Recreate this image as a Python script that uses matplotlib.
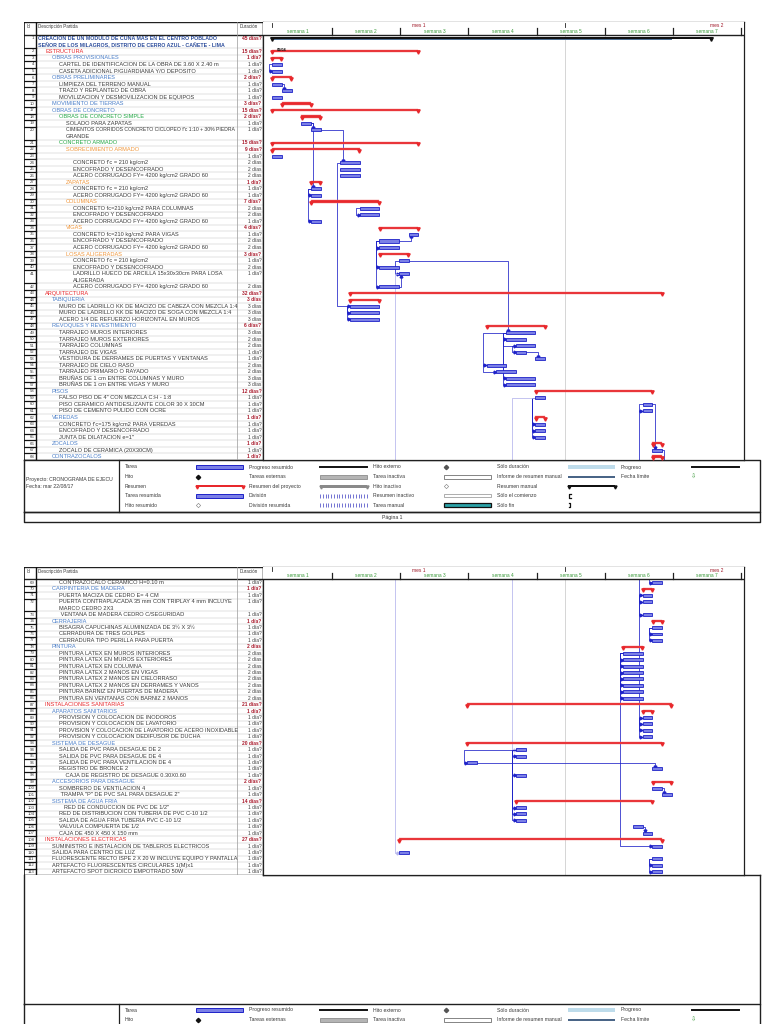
import matplotlib
matplotlib.use("Agg")
import numpy as np
import matplotlib.pyplot as plt
import matplotlib.font_manager as fm
from matplotlib.patches import Rectangle

available = {f.name for f in fm.fontManager.ttflist}
NARROW = 'Liberation Sans Narrow' in available
FONT = 'Liberation Sans Narrow' if NARROW else 'Liberation Sans'
plt.rcParams['font.family'] = [FONT, 'DejaVu Sans']
FS = 4.9 if NARROW else 4.1

# ---------------- data ----------------
task_ids = [1, 2, 3, 4, 5, 6, 7, 8, 9, 10, 17, 18, 19, 20, 21, 22, 23, 24, 25, 26,
            27, 28, 29, 30, 31, 32, 33, 34, 35, 36, 37, 38, 39, 40, 41, 42, 43, 44,
            45, 46, 47, 48, 49, 50, 51, 52, 53, 54, 55, 56, 57, 58, 59, 60, 61, 62,
            63, 64, 65, 66, 67, 68, 69, 70, 71, 72, 73, 74, 75, 76, 77, 78, 79, 80,
            81, 82, 83, 84, 85, 86, 87, 88, 89, 90, 91, 92, 93, 94, 95, 96, 97, 98,
            99, 100, 101, 102, 103, 104, 105, 106, 107, 108, 109, 110, 111, 112, 113]

task_names = [
    "CREACION DE UN MODULO DE CUNA MAS EN EL CENTRO POBLADO\nSEÑOR DE LOS MILAGROS, DISTRITO DE CERRO AZUL - CAÑETE - LIMA",
    "ESTRUCTURA", "OBRAS PROVISIONALES",
    "CARTEL DE IDENTIFICACION DE LA OBRA DE 3.60 X 2.40 m",
    "CASETA ADICIONAL P/GUARDIANIA Y/O DEPOSITO",
    "OBRAS PRELIMINARES", "LIMPIEZA DEL TERRENO MANUAL", "TRAZO Y REPLANTEO DE OBRA",
    "MOVILIZACION Y DESMOVILIZACION DE EQUIPOS", "MOVIMIENTO DE TIERRAS",
    "OBRAS DE CONCRETO", "OBRAS DE CONCRETO SIMPLE", "SOLADO PARA ZAPATAS",
    "CIMIENTOS CORRIDOS CONCRETO CICLOPEO f'c 1:10 + 30% PIEDRA\nGRANDE",
    "CONCRETO ARMADO", "SOBRECIMIENTO ARMADO", "",
    "CONCRETO f'c = 210 kg/cm2", "ENCOFRADO Y DESENCOFRADO",
    "ACERO CORRUGADO FY= 4200 kg/cm2 GRADO 60",
    "ZAPATAS", "CONCRETO f'c = 210 kg/cm2", "ACERO CORRUGADO FY= 4200 kg/cm2 GRADO 60",
    "COLUMNAS", "CONCRETO fc=210 kg/cm2 PARA COLUMNAS", "ENCOFRADO Y DESENCOFRADO",
    "ACERO CORRUGADO FY= 4200 kg/cm2 GRADO 60",
    "VIGAS", "CONCRETO fc=210 kg/cm2 PARA VIGAS", "ENCOFRADO Y DESENCOFRADO",
    "ACERO CORRUGADO FY= 4200 kg/cm2 GRADO 60",
    "LOSAS ALIGERADAS", "CONCRETO f'c = 210 kg/cm2", "ENCOFRADO Y DESENCOFRADO",
    "LADRILLO HUECO DE ARCILLA 15x30x30cm PARA LOSA\nALIGERADA",
    "ACERO CORRUGADO FY= 4200 kg/cm2 GRADO 60",
    "ARQUITECTURA", "TABIQUERIA",
    "MURO DE LADRILLO KK DE MACIZO DE CABEZA CON MEZCLA 1:4",
    "MURO DE LADRILLO KK DE MACIZO DE SOGA CON MEZCLA 1:4",
    "ACERO 1/4 DE REFUERZO HORIZONTAL EN MUROS",
    "REVOQUES Y REVESTIMIENTO", "TARRAJEO MUROS INTERIORES", "TARRAJEO MUROS EXTERIORES",
    "TARRAJEO COLUMNAS", "TARRAJEO DE VIGAS", "VESTIDURA DE DERRAMES DE PUERTAS Y VENTANAS",
    "TARRAJEO DE CIELO RASO", "TARRAJEO PRIMARIO O RAYADO",
    "BRUÑAS DE 1 cm ENTRE COLUMNAS Y MURO", "BRUÑAS DE 1 cm ENTRE VIGAS Y MURO",
    "PISOS", "FALSO PISO DE 4\" CON MEZCLA C:H - 1:8",
    "PISO CERAMICO ANTIDESLIZANTE COLOR 30 X 30CM", "PISO DE CEMENTO PULIDO CON OCRE",
    "VEREDAS", "CONCRETO f'c=175 kg/cm2 PARA VEREDAS", "ENCOFRADO Y DESENCOFRADO",
    "JUNTA DE DILATACION e=1\"",
    "ZOCALOS", "ZOCALO DE CERAMICA (20X30CM)", "CONTRAZOCALOS",
    "CONTRAZOCALO CERAMICO H=0.10 m", "CARPINTERIA DE MADERA",
    "PUERTA MACIZA DE CEDRO E= 4 CM",
    "PUERTA CONTRAPLACADA 35 mm CON TRIPLAY 4 mm INCLUYE\nMARCO CEDRO 2X3",
    " VENTANA DE MADERA CEDRO C/SEGURIDAD",
    "CERRAJERIA", "BISAGRA CAPUCHINAS ALUMINIZADA DE 3½ X 3½",
    "CERRADURA DE TRES GOLPES", "CERRADURA TIPO PERILLA PARA PUERTA",
    "PINTURA", "PINTURA LATEX EN MUROS INTERIORES", "PINTURA LATEX EN MUROS EXTERIORES",
    "PINTURA LATEX EN COLUMNA", "PINTURA LATEX 2 MANOS EN VIGAS",
    "PINTURA LATEX 2 MANOS EN CIELORRASO", "PINTURA LATEX 2 MANOS EN DERRAMES Y VANOS",
    "PINTURA BARNIZ EN PUERTAS DE MADERA", "PINTURA EN VENTANAS CON BARNIZ 2 MANOS",
    "INSTALACIONES SANITARIAS", "APARATOS SANITARIOS",
    "PROVISION Y COLOCACION DE INODOROS", "PROVISION Y COLOCACION DE LAVATORIO",
    "PROVISION Y COLOCACION DE LAVATORIO DE ACERO INOXIDABLE",
    "PROVISION Y COLOCACION DEDIFUSOR DE DUCHA",
    "SISTEMA DE DESAGUE", "SALIDA DE PVC PARA DESAGUE DE 2", "SALIDA DE PVC PARA DESAGUE DE 4",
    "SALIDA DE PVC PARA VENTILACION DE 4", "REGISTRO DE BRONCE 2",
    "    CAJA DE REGISTRO DE DESAGUE 0.30X0.60",
    "ACCESORIOS PARA DESAGUE", "SOMBRERO DE VENTILACION 4",
    " TRAMPA \"P\" DE PVC SAL PARA DESAGUE 2\"",
    "SISTEMA DE AGUA FRIA", "   RED DE CONDUCCION DE PVC DE 1/2\"",
    "RED DE DISTRIBUCION CON TUBERIA DE PVC C-10 1/2",
    "SALIDA DE AGUA FRIA TUBERIA PVC C-10 1/2", "VALVULA COMPUERTA DE 1/2",
    "CAJA DE 450 X 450 X 150 mm",
    "INSTALACIONES ELECTRICAS", "SUMINISTRO E INSTALACION DE TABLEROS ELECTRICOS",
    "SALIDA PARA CENTRO DE LUZ",
    "FLUORESCENTE RECTO ISPE 2 X 20 W INCLUYE EQUIPO Y PANTALLA",
    "ARTEFACTO FLUORESCENTES CIRCULARES 1(M)x1", "ARTEFACTO SPOT DICROICO EMPOTRADO 50W",
]

task_levels = [0, 1, 2, 3, 3, 2, 3, 3, 3, 2, 2, 3, 4, 4, 3, 4, 5, 5, 5, 5,
               4, 5, 5, 4, 5, 5, 5, 4, 5, 5, 5, 4, 5, 5, 5, 5, 1, 2,
               3, 3, 3, 2, 3, 3, 3, 3, 3, 3, 3, 3, 3, 2, 3, 3, 3, 2,
               3, 3, 3, 2, 3, 2, 3, 2, 3, 3, 3, 2, 3, 3, 3, 2, 3, 3,
               3, 3, 3, 3, 3, 3, 1, 2, 3, 3, 3, 3, 2, 3, 3, 3, 3, 3,
               2, 3, 3, 2, 3, 3, 3, 3, 3, 1, 2, 2, 2, 2, 2]

summary_ids = [1, 2, 3, 6, 10, 17, 18, 21, 22, 27, 30, 34, 38, 43, 44, 48, 58, 62,
               66, 68, 70, 74, 78, 87, 88, 93, 99, 102, 108]

durations = ["45 días?", "15 días?", "1 día?", "1 día?", "1 día?", "2 días?", "1 día?",
             "1 día?", "1 día?", "3 días?", "15 días?", "2 días?", "1 día?", "1 día?",
             "15 días?", "9 días?", "1 día?", "2 días", "2 días", "2 días",
             "1 día?", "1 día?", "1 día?", "7 días?", "2 días", "2 días", "1 día?",
             "4 días?", "1 día?", "2 días", "2 días", "3 días?", "1 día?", "2 días",
             "1 día?", "2 días", "32 días?", "3 días",
             "3 días", "3 días", "3 días", "6 días?", "3 días", "2 días", "2 días",
             "1 día?", "1 día?", "2 días", "2 días", "3 días", "3 días", "12 días?",
             "1 día?", "1 día?", "1 día?", "1 día?",
             "1 día?", "1 día?", "1 día?", "1 día?", "1 día?", "1 día?", "1 día?",
             "1 día?", "1 día?", "1 día?", "1 día?", "1 día?", "1 día?", "1 día?",
             "1 día?", "2 días", "2 días", "2 días",
             "2 días", "2 días", "2 días", "2 días", "2 días", "2 días", "21 días?",
             "1 día?", "1 día?", "1 día?", "1 día?", "1 día?", "20 días?", "1 día?",
             "1 día?", "1 día?", "1 día?", "1 día?",
             "2 días?", "1 día?", "1 día?", "14 días?", "1 día?", "1 día?", "1 día?",
             "1 día?", "1 día?", "27 días?", "1 día?", "1 día?", "1 día?", "1 día?",
             "1 día?"]

# start / finish in project days
starts = [0, 0, 0, 0, 0, 0, 0, 1, 0, 1, 0, 3, 3, 4, 0, 0, 0, 7, 7, 7,
          4, 4, 4, 4, 9, 9, 4, 11, 14, 11, 11, 11, 13, 11, 13, 11, 8, 8,
          8, 8, 8, 22, 24, 24, 25, 25, 27, 22, 23, 24, 24, 27, 27, 38, 38, 27,
          27, 27, 27, 39, 39, 39, 39, 38, 38, 38, 38, 39, 39, 39, 39, 36, 36, 36,
          36, 36, 36, 36, 36, 36, 20, 38, 38, 38, 38, 38, 20, 25, 25, 20, 39, 25,
          39, 39, 40, 25, 25, 25, 25, 37, 38, 13, 39, 13, 39, 39, 39]
finishes = [45, 15, 1, 1, 1, 2, 1, 2, 1, 4, 15, 5, 4, 5, 15, 9, 1, 9, 9, 9,
            5, 5, 5, 11, 11, 11, 5, 15, 15, 13, 13, 14, 14, 13, 14, 13, 40, 11,
            11, 11, 11, 28, 27, 26, 27, 26, 28, 24, 25, 27, 27, 39, 28, 39, 39, 28,
            28, 28, 28, 40, 40, 40, 40, 39, 39, 39, 39, 40, 40, 40, 40, 38, 38, 38,
            38, 38, 38, 38, 38, 38, 41, 39, 39, 39, 39, 39, 40, 26, 26, 21, 40, 26,
            41, 40, 41, 39, 26, 26, 26, 38, 39, 40, 40, 14, 40, 40, 40]

links = [(4, 5, 'SS'), (7, 8, 'FS'), (19, 20, 'FS'), (19, 28, 'FS'), (20, 24, 'FS'),
         (28, 29, 'SS'), (28, 33, 'SS'), (24, 45, 'SS'), (45, 46, 'SS'), (45, 47, 'SS'),
         (31, 32, 'SS'), (36, 37, 'SS'), (36, 40, 'SS'), (36, 42, 'SS'), (36, 35, 'FS'),
         (39, 41, 'SS'), (42, 41, 'FS'), (39, 49, 'FS'), (49, 50, 'SS'), (49, 56, 'SS'),
         (49, 57, 'SS'), (50, 51, 'SS'), (51, 52, 'SS'), (52, 53, 'FS'), (49, 54, 'SS'),
         (54, 55, 'SS'), (59, 63, 'SS'), (59, 64, 'SS'), (59, 65, 'SS'), (60, 61, 'SS'),
         (60, 67, 'FS'), (67, 69, 'FS'), (41, 110, 'SS'), (59, 94, 'SS'), (61, 71, 'SS'),
         (71, 72, 'SS'), (71, 73, 'SS'), (75, 76, 'SS'), (75, 77, 'SS'),
         (79, 80, 'SS'), (79, 81, 'SS'), (79, 82, 'SS'), (79, 83, 'SS'), (79, 84, 'SS'),
         (79, 85, 'SS'), (79, 86, 'SS'), (79, 109, 'SS'), (71, 89, 'SS'),
         (89, 90, 'SS'), (89, 91, 'SS'), (89, 92, 'SS'), (94, 95, 'SS'), (94, 98, 'SS'),
         (94, 103, 'SS'), (94, 104, 'SS'), (94, 105, 'SS'), (94, 96, 'SS'), (96, 97, 'FS'),
         (100, 101, 'FS'), (106, 107, 'FS'), (111, 112, 'SS'), (111, 113, 'SS')]

week_labels = ["semana 1", "semana 2", "semana 3", "semana 4", "semana 5", "semana 6", "semana 7"]
month_labels = ["mes 1", "mes 2"]

legend_cols = [
    [("Tarea", "task"), ("Hito", "milestone"), ("Resumen", "summary"),
     ("Tarea resumida", "task"), ("Hito resumido", "hollow_ms")],
    [("Progreso resumido", "progress"), ("Tareas externas", "external"),
     ("Resumen del proyecto", "proj_summary"), ("División", "split"),
     ("División resumida", "split")],
    [("Hito externo", "ext_ms"), ("Tarea inactiva", "inactive"), ("Hito inactivo", "hollow_ms"),
     ("Resumen inactivo", "inactive_sum"), ("Tarea manual", "manual")],
    [("Sólo duración", "duration_only"), ("Informe de resumen manual", "rollup"),
     ("Resumen manual", "manual_summary"), ("Sólo el comienzo", "start_only"),
     ("Sólo fin", "finish_only")],
    [("Progreso", "progress"), ("Fecha límite", "deadline")],
]

# ---------------- style ----------------
RED = '#E8282C'
BLUE_FILL = '#7B80E6'
BLUE_EDGE = '#1E22C8'
LINK = '#1E22C8'
FAINT = '#B4B4EC'
TXT = '#3A3A3A'
DUR_RED = '#A8182A'
LEVEL_COLORS = {0: '#2B4C9B', 1: '#E8282C', 2: '#4A7EC8', 3: '#22A844', 4: '#F0963A'}
LFS = 4.3 if NARROW else 3.7

W, H = 768, 1024
fig = plt.figure(figsize=(W / 100, H / 100), dpi=100)


def px_axes(x0, y0, x1, y1):
    return fig.add_axes([x0 / W, 1 - y1 / H, (x1 - x0) / W, (y1 - y0) / H])


deco = px_axes(0, 0, W, H)
deco.set_xlim(0, W)
deco.set_ylim(H, 0)
deco.axis('off')

# row layout (in row units); page 2 gets its own header of 2 units
PAGE2_FIRST = 69
tops, page_of = [], []
u = 0.0
for tid, name in zip(task_ids, task_names):
    if tid == PAGE2_FIRST:
        u += 2
    page_of.append(0 if tid < PAGE2_FIRST else 1)
    tops.append(u)
    u += 2 if '\n' in name else 1
heights = [2 if '\n' in n else 1 for n in task_names]
p1_end = max(t + h for t, h, p in zip(tops, heights, page_of) if p == 0)
p2_end = u
row_index = {tid: k for k, tid in enumerate(task_ids)}

pages = [dict(top=22, bottom=460, u0=-2, u1=p1_end),
         dict(top=566.5, bottom=875, u0=p1_end, u1=p2_end)]

DAY0_PX, PX_DAY = 272, 9.75
X0 = (263 - DAY0_PX) / PX_DAY
X1 = (744 - DAY0_PX) / PX_DAY
WEEK_OFFSET = 6.15
MONTH_LEN = 30
name_texts = []


def bar_center(k):
    return tops[k] + (0.45 if task_ids[k] in summary_ids else 0.5)


def draw_gantt(ax, u0, u1):
    ax.set_xlim(X0, X1)
    ax.set_ylim(u1, u0)
    ax.set_xticks([])
    ax.set_yticks([])
    for s in ax.spines.values():
        s.set_linewidth(0.9)
        s.set_color('#202020')
    # month boundary line
    ax.axvline(MONTH_LEN, color='#CFCFCF', lw=0.6, zorder=1)

    # links
    for pred, succ, kind in links:
        p, q = row_index[pred], row_index[succ]
        pc, sc = bar_center(p), bar_center(q)
        col = FAINT if abs(q - p) > 32 else LINK
        down = sc > pc
        if kind == 'SS':
            xv = min(starts[p], starts[q]) - 0.35
            xs = [starts[p], xv, xv, starts[q] - 0.12]
            ys = [pc, pc, sc, sc]
            ax.plot(xs, ys, color=col, lw=0.55, zorder=2)
            ax.plot([starts[q] - 0.12], [sc], marker='>', ms=2.0, color=col, zorder=2)
        elif starts[q] >= finishes[p]:
            xv = starts[q] + 0.25
            yend = sc - 0.3 if down else sc + 0.3
            ax.plot([finishes[p], xv, xv], [pc, pc, yend], color=col, lw=0.55, zorder=2)
            ax.plot([xv], [yend], marker='v' if down else '^', ms=2.0, color=col, zorder=2)
        else:
            xr = finishes[p] + 0.25
            xl = starts[q] - 0.35
            ymid = sc - 0.5
            ax.plot([finishes[p], xr, xr, xl, xl, starts[q] - 0.12],
                    [pc, pc, ymid, ymid, sc, sc], color=col, lw=0.55, zorder=2)
            ax.plot([starts[q] - 0.12], [sc], marker='>', ms=2.0, color=col, zorder=2)

    # bars
    for k, tid in enumerate(task_ids):
        t = tops[k]
        s, f = starts[k], finishes[k]
        if task_levels[k] == 0:
            ax.add_patch(Rectangle((s, t + 0.52), 41 - s, 0.22, fc='#4F6F92', ec='none', zorder=3))
            ax.add_patch(Rectangle((s, t + 0.3), f - s, 0.3, fc='#111111', ec='none', zorder=3))
            ax.plot([s, f], [t + 0.62, t + 0.62], 'v', ms=2.6, color='#111111', zorder=3)
        elif tid in summary_ids:
            ax.add_patch(Rectangle((s, t + 0.3), f - s, 0.32, fc=RED, ec='#F07070',
                                   lw=0.3, zorder=3))
            ax.plot([s + 0.05, f - 0.05], [t + 0.66, t + 0.66], 'v', ms=2.4, color=RED, zorder=3)
        else:
            ax.add_patch(Rectangle((s, t + 0.27), f - s, 0.46, fc=BLUE_FILL, ec=BLUE_EDGE,
                                   lw=0.6, zorder=3))

    # timescale header
    ax.add_patch(Rectangle((X0, u0), X1 - X0, 2, fc='white', ec='none', zorder=5))
    ax.plot([X0, X1], [u0 + 2, u0 + 2], color='#202020', lw=1.0, zorder=6)
    weeks = WEEK_OFFSET + 7 * np.arange(len(week_labels))
    edges = np.concatenate([[X0], weeks])
    for k, lab in enumerate(week_labels):
        ax.text((edges[k] + edges[k + 1]) / 2, u0 + 1.45, lab, fontsize=FS * 0.85,
                color='#3C9A3C', ha='center', va='center', zorder=7)
        ax.plot([weeks[k], weeks[k]], [u0 + 0.95, u0 + 2], color='#202020', lw=0.9, zorder=7)
    ax.plot([0, 0], [u0 + 0.1, u0 + 0.7], color='#202020', lw=0.6, zorder=7)
    ax.plot([MONTH_LEN, MONTH_LEN], [u0 + 0.1, u0 + 0.7], color='#202020', lw=0.6, zorder=7)
    ax.text(MONTH_LEN / 2, u0 + 0.55, month_labels[0], fontsize=FS * 0.85, color='#A01828',
            ha='center', va='center', zorder=7)
    ax.text(45.6, u0 + 0.55, month_labels[1], fontsize=FS * 0.85, color='#A01828',
            ha='center', va='center', zorder=7)


def draw_table(ax, u0, u1, page):
    ax.set_xlim(24, 263)
    ax.set_ylim(u1, u0)
    ax.axis('off')
    # header
    ax.text(27, u0 + 0.75, "Id", fontsize=FS * 0.8, color=TXT, va='center')
    ax.text(38, u0 + 0.75, "Descripción Partida", fontsize=FS * 0.8, color=TXT, va='center')
    ax.text(240, u0 + 0.75, "Duración", fontsize=FS * 0.8, color=TXT, va='center')
    ax.plot([24, 263], [u0, u0], color='#202020', lw=1.0)
    ax.plot([24, 263], [u0 + 2, u0 + 2], color='#202020', lw=1.0)
    ax.plot([24, 263], [u1, u1], color='#202020', lw=1.0)
    for k, tid in enumerate(task_ids):
        if page_of[k] != page:
            continue
        t, h = tops[k], heights[k]
        ax.plot([36, 263], [t + h, t + h], color='#C4C4C4', lw=0.35)
        ax.plot([24, 36], [t + h, t + h], color='#111111', lw=0.9)
        ax.text(34.5, t + 0.5, str(tid), fontsize=FS * 0.75, color=TXT, ha='right', va='center')
        lvl = task_levels[k]
        is_sum = tid in summary_ids
        color = LEVEL_COLORS[lvl] if is_sum else TXT
        weight = 'bold' if lvl == 0 else 'normal'
        for j, line in enumerate(task_names[k].split('\n')):
            name_texts.append(ax.text(38 + 7 * lvl, t + 0.5 + j, line,
                                      fontsize=FS * (0.93 if lvl == 0 else 1.0),
                                      color=color, va='center', weight=weight))
        ax.text(261.5, t + 0.5, durations[k], fontsize=FS * 0.85,
                color=DUR_RED if is_sum else TXT, ha='right', va='center',
                weight='bold' if is_sum else 'normal')
    ax.plot([24, 24], [u0, u1], color='#111111', lw=1.2)
    ax.plot([36, 36], [u0, u1], color='#111111', lw=1.0)
    ax.plot([237.5, 237.5], [u0, u1], color='#9A9A9A', lw=0.5)
    ax.plot([263, 263], [u0, u1], color='#111111', lw=1.0)


for pg, spec in enumerate(pages):
    tab = px_axes(24, spec['top'], 263, spec['bottom'])
    draw_table(tab, spec['u0'], spec['u1'], pg)
    gantt = px_axes(263, spec['top'], 744, spec['bottom'])
    draw_gantt(gantt, spec['u0'], spec['u1'])
    if pg == 0:
        gantt.text(0.5, tops[row_index[2]] + 0.3, "01/04", fontsize=2.8, weight='bold',
                   color='#111111', va='center', zorder=4)

# shrink any description that would run into the duration column
fig.canvas.draw()
renderer = fig.canvas.get_renderer()
for txt in name_texts:
    right = txt.get_window_extent(renderer).x1
    if right > 236.5:
        left = txt.get_window_extent(renderer).x0
        txt.set_fontsize(txt.get_fontsize() * (236.5 - left) / (right - left))


# ---------------- legend (decoration) ----------------
def symbol(kind, x0, x1, y):
    if kind == 'task':
        deco.add_patch(Rectangle((x0, y - 2), x1 - x0, 4, fc=BLUE_FILL, ec=BLUE_EDGE, lw=0.7))
    elif kind == 'milestone':
        deco.plot([x0 + 2], [y], marker='D', ms=2.2, color='#111111')
    elif kind == 'hollow_ms':
        deco.plot([x0 + 2], [y], marker='D', ms=2.2, mfc='white', mec='#777777', mew=0.4)
    elif kind == 'ext_ms':
        deco.plot([x0 + 2], [y], marker='D', ms=2.2, color='#555555')
    elif kind == 'summary':
        deco.add_patch(Rectangle((x0, y - 1.5), x1 - x0, 2.6, fc=RED, ec='none'))
        deco.plot([x0 + 0.5, x1 - 0.5], [y + 1.2, y + 1.2], 'v', ms=2.2, color=RED)
    elif kind == 'progress':
        deco.plot([x0, x1], [y, y], color='#111111', lw=1.4)
    elif kind == 'external':
        deco.add_patch(Rectangle((x0, y - 2), x1 - x0, 4, fc='#B4B4B4', ec='#8C8C8C', lw=0.6))
    elif kind == 'proj_summary':
        deco.add_patch(Rectangle((x0, y - 1.3), x1 - x0, 2.6, fc='#8A8A8A', ec='none'))
        deco.plot([x0 + 0.5, x1 - 0.5], [y + 1.2, y + 1.2], 'v', ms=2.2, color='#8A8A8A')
    elif kind == 'split':
        deco.plot(np.linspace(x0, x1, 18), np.full(18, y), ls='none', marker='|', ms=2.4,
                  mew=0.5, color='#3B3BC0')
    elif kind == 'inactive':
        deco.add_patch(Rectangle((x0, y - 2), x1 - x0, 4, fc='white', ec='#707070', lw=0.6))
    elif kind == 'inactive_sum':
        deco.add_patch(Rectangle((x0, y - 1.5), x1 - x0, 3, fc='white', ec='#A0A0A0', lw=0.6))
    elif kind == 'manual':
        deco.add_patch(Rectangle((x0, y - 2), x1 - x0, 4, fc='#2BA3A8', ec='#111111', lw=0.9))
    elif kind == 'duration_only':
        deco.add_patch(Rectangle((x0, y - 2), x1 - x0, 4, fc='#BEDCEB', ec='none'))
    elif kind == 'rollup':
        deco.add_patch(Rectangle((x0, y - 1), x1 - x0, 2.4, fc='#4A6587', ec='none'))
    elif kind == 'manual_summary':
        deco.add_patch(Rectangle((x0, y - 1.5), x1 - x0, 2.6, fc='#111111', ec='none'))
        deco.plot([x0 + 0.5, x1 - 0.5], [y + 1.2, y + 1.2], 'v', ms=2.2, color='#111111')
    elif kind == 'start_only':
        deco.plot([x0 + 2.5, x0 + 1, x0 + 1, x0 + 2.5], [y - 2, y - 2, y + 2, y + 2],
                  color='#111111', lw=0.9)
    elif kind == 'finish_only':
        deco.plot([x0 + 0.5, x0 + 2, x0 + 2, x0 + 0.5], [y - 2, y - 2, y + 2, y + 2],
                  color='#111111', lw=0.9)
    elif kind == 'deadline':
        deco.text(x0 + 2, y, "⇩", fontsize=4.5, color='#3C9A3C', ha='center', va='center',
                  family='DejaVu Sans')


def legend(y_top, y_bottom, first_row, n_rows):
    deco.plot([24, 760, 760, 24, 24], [y_top, y_top, y_bottom, y_bottom, y_top],
              color='#202020', lw=1.0, clip_on=False)
    deco.plot([119, 119], [y_top, y_bottom], color='#202020', lw=0.9)
    for c, items in enumerate(legend_cols):
        for r, (label, kind) in enumerate(items[:n_rows]):
            y = first_row + 9.6 * r
            deco.text(125 + 124 * c, y, label, fontsize=LFS, color=TXT, va='center')
            symbol(kind, 196 + 124 * c, 243 + 124 * c, y)


legend(460, 512, 467, 5)
deco.text(26, 480, "Proyecto: CRONOGRAMA DE EJECU", fontsize=LFS, color=TXT, va='center')
deco.text(26, 487, "Fecha: mar 22/08/17", fontsize=LFS, color=TXT, va='center')
deco.plot([24, 760, 760, 24, 24], [512, 512, 522, 522, 512], color='#202020', lw=1.0)
deco.text(392, 517, "Página 1", fontsize=LFS, color=TXT, ha='center', va='center')

# page 2 empty area + legend (only the first two legend rows fit on the sheet)
deco.plot([24, 24], [875, 1004], color='#202020', lw=1.0)
deco.plot([760, 760], [875, 1004], color='#202020', lw=1.0)
deco.plot([263, 760], [875, 875], color='#202020', lw=1.0)
legend(1004, 1060, 1010, 2)

fig.savefig("out.png", dpi=100)
